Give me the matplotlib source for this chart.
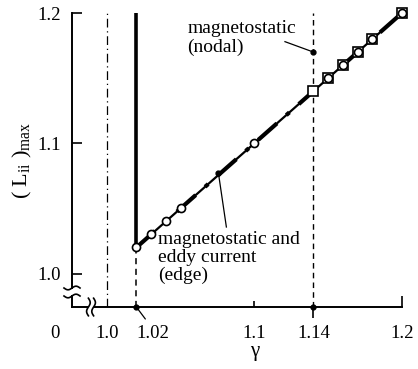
"""Peak inductance (L_ii)max against gamma, edge vs nodal formulation."""

import matplotlib

matplotlib.use("Agg")
import matplotlib.lines as mlines
import matplotlib.pyplot as plt
import matplotlib.transforms as mtransforms
import numpy as np

plt.rcParams["font.family"] = ["Liberation Serif", "DejaVu Serif"]
plt.rcParams["mathtext.fontset"] = "custom"
plt.rcParams["mathtext.rm"] = "Liberation Serif"
plt.rcParams["mathtext.it"] = "Liberation Serif:italic"

# edge formulation (magnetostatic and eddy current)
gamma_edge = [1.02, 1.03, 1.04, 1.05, 1.10, 1.15, 1.16, 1.17, 1.18, 1.20]
L_edge = [1.02, 1.03, 1.04, 1.05, 1.10, 1.15, 1.16, 1.17, 1.18, 1.20]
# nodal formulation (magnetostatic)
gamma_nodal = [1.14, 1.15, 1.16, 1.17, 1.18, 1.20]
L_nodal = [1.14, 1.15, 1.16, 1.17, 1.18, 1.20]
# thresholds
gamma_ref = 1.0
gamma_edge_min = 1.02
gamma_nodal_min = 1.14

x_ticks = [1.0, 1.1, 1.14, 1.2]
x_ticklabels = ["1.0", "1.1", "1.14", "1.2"]
y_ticks = [1.0, 1.1, 1.2]
y_ticklabels = ["1.0", "1.1", "1.2"]

XLIM = (0.9764, 1.2)
YLIM = (0.9743, 1.2)

fig = plt.figure(figsize=(4.18, 3.69), dpi=100)
ax = fig.add_axes([72 / 418, 62 / 369, 330 / 418, 294 / 369])
ax.set_xlim(*XLIM)
ax.set_ylim(*YLIM)

for side in ("top", "right"):
    ax.spines[side].set_visible(False)
for side in ("left", "bottom"):
    ax.spines[side].set_linewidth(1.4)

# vertical guide lines
ax.plot([gamma_ref, gamma_ref], [YLIM[0], YLIM[1]], color="black", lw=0.9,
        dashes=(7, 3, 1, 3))
ax.plot([gamma_edge_min, gamma_edge_min], [YLIM[0], L_edge[0]], color="black",
        lw=1.1, dashes=(4, 3))
ax.plot([gamma_nodal_min, gamma_nodal_min], [YLIM[0], YLIM[1]], color="black",
        lw=1.0, dashes=(4, 3))

# edge: vertical jump at gamma_edge_min then linear rise
ax.plot([gamma_edge_min, gamma_edge_min], [L_edge[0], YLIM[1]], color="black",
        lw=2.6, solid_capstyle="butt")
ax.plot([gamma_edge[0], gamma_edge[-1]], [L_edge[0], L_edge[-1]], color="black",
        lw=1.6, zorder=3)
ax.plot([gamma_edge[0], gamma_edge[-1]], [L_edge[0], L_edge[-1]], color="black",
        lw=3.0, dashes=(6, 3, 1, 3), zorder=3)

ax.plot(gamma_nodal, L_nodal, ls="none", marker="s", ms=7.5, mfc="white",
        mec="black", mew=1.2, zorder=4, clip_on=False)
ax.plot(gamma_edge, L_edge, ls="none", marker="o", ms=5.8, mfc="white",
        mec="black", mew=1.2, zorder=5, clip_on=False)

# small dots on the axis where thresholds are marked
ax.plot([gamma_edge_min, gamma_nodal_min], [YLIM[0], YLIM[0]], ls="none",
        marker="o", ms=3.5, color="black", clip_on=False, zorder=6)

# ticks
ax.set_xticks(x_ticks)
ax.set_xticklabels(x_ticklabels)
ax.set_yticks(y_ticks)
ax.set_yticklabels(y_ticklabels)
ax.tick_params(axis="both", direction="in", labelsize=13.5, width=1.2)
ax.tick_params(axis="x", length=6, pad=13)
ax.tick_params(axis="y", length=7, pad=8)
for val, tick in zip(x_ticks, ax.xaxis.get_major_ticks()):
    if val == gamma_ref:
        tick.tick1line.set_markersize(0)
    elif val == gamma_nodal_min:
        tick.tick1line.set_marker(mlines.TICKDOWN)
        tick.tick1line.set_markersize(8)
    elif val == 1.2:
        tick.tick1line.set_markersize(8)
    else:
        tick.tick1line.set_markersize(4)

# "0" at the origin of the broken axis and the offset 1.02 label
ax.annotate("0", xy=(0, 0), xycoords="axes fraction", xytext=(-17, -27),
            textcoords="offset pixels", ha="center", va="center", fontsize=13.5)
ax.annotate("1.02", xy=(gamma_edge_min, YLIM[0]), xytext=(16, -27),
            textcoords="offset pixels", ha="center", va="center", fontsize=13.5)
ax.annotate("", xy=(gamma_edge_min, YLIM[0]), xytext=(9, -12),
            textcoords="offset pixels",
            arrowprops=dict(arrowstyle="-", lw=0.9, color="black",
                            shrinkA=0, shrinkB=0))

ax.set_ylabel(r"$(\ \mathrm{L}_{\mathrm{ii}}\ )_{\mathrm{max}}$", fontsize=16)
ax.yaxis.set_label_coords(-0.115, 0.5)
ax.set_xlabel("γ", fontsize=15)
ax.xaxis.set_label_coords(0.555, -0.12)

# series labels with leader lines
ax.text(1.0546, 1.195, "magnetostatic\n(nodal)", fontsize=14, va="top",
        ha="left", linespacing=1.2)
ax.plot([1.1207, gamma_nodal_min], [1.178, 1.170], color="black", lw=0.9)
ax.plot([gamma_nodal_min], [1.170], ls="none", marker="o", ms=3.5,
        color="black", zorder=6)

ax.text(1.035, 1.033, "magnetostatic and\neddy current\n(edge)", fontsize=14,
        va="top", ha="left", linespacing=1.1)
ax.plot([1.0755, 1.081], [1.078, 1.0357], color="black", lw=0.9)
ax.plot([1.0755], [1.077], ls="none", marker="o", ms=3.5, color="black",
        zorder=6)


def break_mark(xa, ya, vertical):
    """Draw an axis break symbol centred at (xa, ya) in axes fraction."""
    trans = fig.dpi_scale_trans + mtransforms.ScaledTranslation(
        xa, ya, ax.transAxes)
    t = np.linspace(-8, 8, 40)
    w = 1.8 * np.sin(np.pi * t / 8)
    for off in (-4, 4):
        if vertical:
            xs, ys = (w + off * 0.65) / 100, t * 1.1 / 100
        else:
            xs, ys = t / 100, (w + off) / 100
        if off == -4:
            if vertical:
                gap = ([-2.6 / 100, 2.6 / 100], [0, 0])
            else:
                gap = ([0, 0], [-3.4 / 100, 3.4 / 100])
            ax.plot(*gap, color="white", lw=4, transform=trans,
                    clip_on=False, zorder=7, solid_capstyle="butt")
        ax.plot(xs, ys, color="black", lw=1.2, transform=trans,
                clip_on=False, zorder=8)


break_mark(0.0, 15 / 294, vertical=False)
break_mark(19 / 330, 0.0, vertical=True)

fig.savefig("out.png", dpi=100)
